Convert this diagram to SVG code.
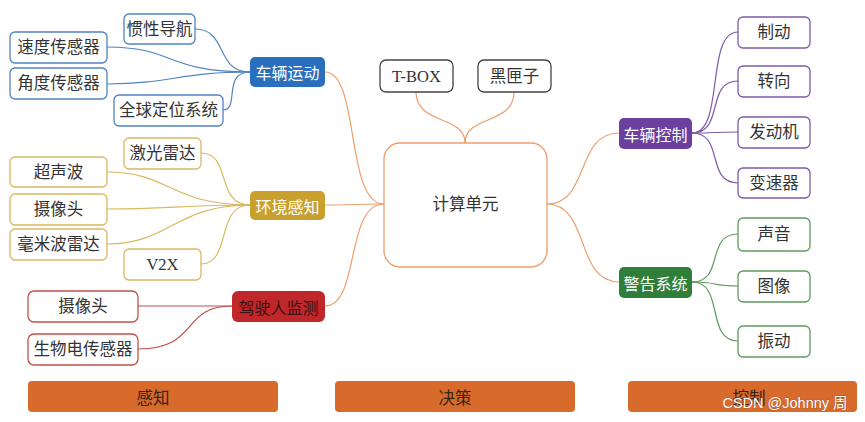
<svg xmlns="http://www.w3.org/2000/svg" width="865" height="422" viewBox="0 0 865 422">
<style>
text{font-family:"Liberation Serif","Noto Sans CJK SC",serif;font-size:16.5px;text-anchor:middle;dominant-baseline:central;fill:#333}
.leaf{fill:#fff;stroke-width:1.3}
.hub text{fill:#fff;font-family:"Noto Sans CJK SC",sans-serif;font-size:16px}
.c{fill:none;stroke-width:1.2}
.b{stroke:#4f82c2}.g{stroke:#d9b85e}.r{stroke:#c2504a}.o{stroke:#ee9e6c}.p{stroke:#7c5aaa}.gr{stroke:#5e9a5e}
.bar{fill:#d86a2c}
.bar text{fill:#3a2416;font-family:"Noto Sans CJK SC",serif}
</style>
<rect width="865" height="422" fill="#fff"/>
<g id="connectors">
<path class="c b" d="M195,29 C228,29 215,72 250,72"/>
<path class="c b" d="M107,47 C175,47 165,72 250,72"/>
<path class="c b" d="M107,84 C170,84 180,72 250,72"/>
<path class="c b" d="M223,110 C240,110 222,72 250,72"/>
<path class="c g" d="M201,153 C232,153 215,205 250,205"/>
<path class="c g" d="M107,172 C170,172 170,205 250,205"/>
<path class="c g" d="M107,209 C170,209 180,205 250,205"/>
<path class="c g" d="M107,244 C170,244 175,205 250,205"/>
<path class="c g" d="M201,264 C232,264 215,205 250,205"/>
<path class="c r" d="M138,306 L232,306"/>
<path class="c r" d="M138,349 C200,349 180,306 232,306"/>
<path class="c o" d="M325,72 C360,72 345,204 384,204"/>
<path class="c o" d="M325,205 C350,205 360,204 384,204"/>
<path class="c o" d="M325,306 C360,306 345,204 384,204"/>
<path class="c o" d="M416,92 C416,125 465,115 465,143"/>
<path class="c o" d="M514,92 C514,125 465,115 465,143"/>
<path class="c o" d="M547,204 C590,204 575,133 619,133"/>
<path class="c o" d="M547,204 C590,204 575,282 619,282"/>
<path class="c p" d="M692,133 C725,133 705,32 738,32"/>
<path class="c p" d="M692,133 C725,133 705,81 738,81"/>
<path class="c p" d="M692,133 C715,133 715,132 738,132"/>
<path class="c p" d="M692,133 C725,133 705,183 738,183"/>
<path class="c gr" d="M692,282 C725,282 705,234 738,234"/>
<path class="c gr" d="M692,282 C720,282 710,286 738,286"/>
<path class="c gr" d="M692,282 C725,282 705,341 738,341"/>
</g>
<g id="n-gyro"><rect class="leaf b" x="124" y="14" width="71" height="30" rx="5"/><text x="159.5" y="29">惯性导航</text></g>
<g id="n-speed"><rect class="leaf b" x="10" y="32" width="97" height="31" rx="5"/><text x="58.5" y="47.5">速度传感器</text></g>
<g id="n-angle"><rect class="leaf b" x="10" y="68" width="97" height="31" rx="5"/><text x="58.5" y="83.5">角度传感器</text></g>
<g id="n-gps"><rect class="leaf b" x="114" y="95" width="109" height="31" rx="5"/><text x="168.5" y="110.5">全球定位系统</text></g>
<g id="n-motion" class="hub"><rect x="250" y="57" width="75" height="30" rx="5" fill="#2a6fbd"/><text x="287.5" y="72">车辆运动</text></g>
<g id="n-lidar"><rect class="leaf g" x="124" y="138" width="77" height="31" rx="5"/><text x="162.5" y="153.5">激光雷达</text></g>
<g id="n-ultra"><rect class="leaf g" x="10" y="157" width="97" height="30" rx="5"/><text x="58.5" y="172">超声波</text></g>
<g id="n-cam1"><rect class="leaf g" x="10" y="194" width="97" height="31" rx="5"/><text x="58.5" y="209.5">摄像头</text></g>
<g id="n-mmw"><rect class="leaf g" x="10" y="229" width="97" height="31" rx="5"/><text x="58.5" y="244.5">毫米波雷达</text></g>
<g id="n-v2x"><rect class="leaf g" x="124" y="249" width="77" height="31" rx="5"/><text x="162.5" y="264.5">V2X</text></g>
<g id="n-env" class="hub"><rect x="250" y="191" width="75" height="29" rx="5" fill="#c9a02e"/><text x="287.5" y="205.5">环境感知</text></g>
<g id="n-cam2"><rect class="leaf r" x="28" y="291" width="110" height="31" rx="6"/><text x="83" y="306.5">摄像头</text></g>
<g id="n-bio"><rect class="leaf r" x="28" y="334" width="110" height="31" rx="6"/><text x="83" y="349.5">生物电传感器</text></g>
<g id="n-driver" class="hub"><rect x="232" y="291" width="93" height="31" rx="6" fill="#c0272b"/><text x="278.5" y="306.5" style="fill:#3a1010">驾驶人监测</text></g>
<g id="n-tbox"><rect class="leaf" x="380" y="60" width="73" height="32" rx="6" stroke="#444"/><text x="416.5" y="76">T-BOX</text></g>
<g id="n-blackbox"><rect class="leaf" x="478" y="60" width="73" height="32" rx="6" stroke="#444"/><text x="514.5" y="76">黑匣子</text></g>
<g id="n-compute"><rect class="leaf o" x="384" y="143" width="163" height="124" rx="16"/><text x="465.5" y="204">计算单元</text></g>
<g id="n-vctrl" class="hub"><rect x="619" y="118" width="73" height="31" rx="5" fill="#6a3f9e"/><text x="655.5" y="133.5">车辆控制</text></g>
<g id="n-brake"><rect class="leaf p" x="738" y="17" width="72" height="31" rx="5"/><text x="774" y="32.5">制动</text></g>
<g id="n-steer"><rect class="leaf p" x="738" y="66" width="72" height="31" rx="5"/><text x="774" y="81.5">转向</text></g>
<g id="n-engine"><rect class="leaf p" x="738" y="117" width="72" height="31" rx="5"/><text x="774" y="132.5">发动机</text></g>
<g id="n-gear"><rect class="leaf p" x="738" y="168" width="72" height="30" rx="5"/><text x="774" y="183">变速器</text></g>
<g id="n-warn" class="hub"><rect x="619" y="267" width="73" height="31" rx="5" fill="#2f7f3a"/><text x="655.5" y="282.5">警告系统</text></g>
<g id="n-sound"><rect class="leaf gr" x="738" y="218" width="72" height="33" rx="5"/><text x="774" y="234.5">声音</text></g>
<g id="n-image"><rect class="leaf gr" x="738" y="271" width="72" height="31" rx="5"/><text x="774" y="286.5">图像</text></g>
<g id="n-vib"><rect class="leaf gr" x="738" y="326" width="72" height="31" rx="5"/><text x="774" y="341.5">振动</text></g>
<g id="bar-perceive" class="bar"><rect x="28" y="381" width="250" height="31" rx="4"/><text x="153" y="396.5">感知</text></g>
<g id="bar-decide" class="bar"><rect x="335" y="381" width="240" height="31" rx="4"/><text x="455" y="396.5">决策</text></g>
<g id="bar-control" class="bar"><rect x="628" y="381" width="229" height="31" rx="4"/><text x="749" y="396.5">控制</text></g>
<text x="785" y="403" style="font-family:'Liberation Sans','Noto Sans CJK SC',sans-serif;font-size:14.5px;fill:#fff;stroke:#6a4a3a;stroke-width:0.4;paint-order:stroke">CSDN @Johnny 周</text>
</svg>
